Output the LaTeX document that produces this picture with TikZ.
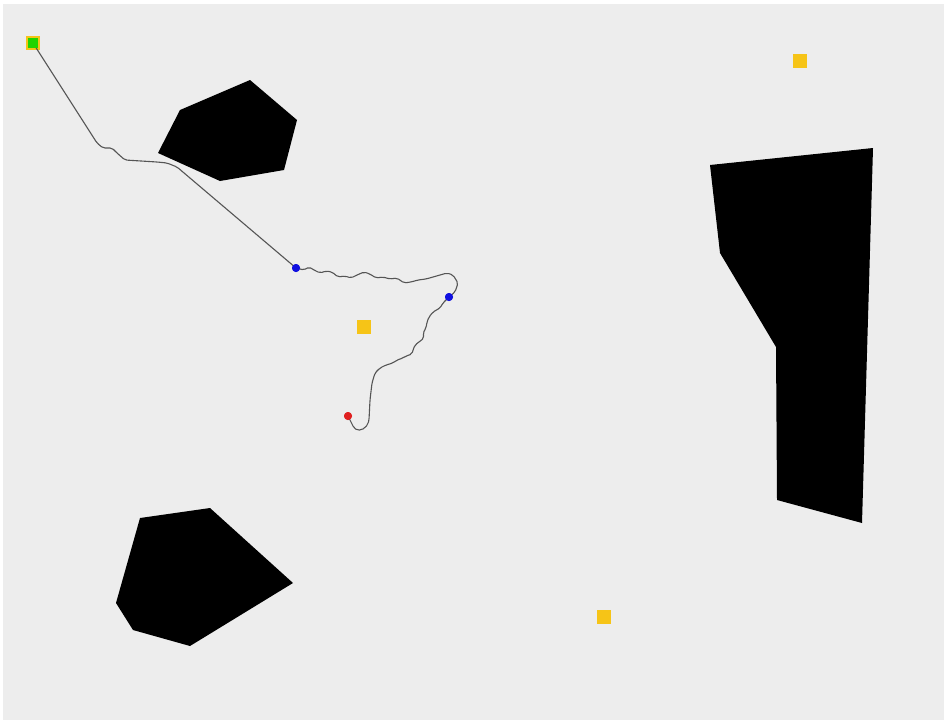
\documentclass[tikz,border=0pt]{standalone}
\begin{document}
\begin{tikzpicture}[x=1pt,y=-1pt,
  obstacle/.style={fill=black,draw=none},
  target/.style={fill=goldy,draw=none,minimum size=14pt,inner sep=0pt,shape=rectangle},
  startin/.style={fill=greeny,draw=none,minimum size=10pt,inner sep=0pt,shape=rectangle},
  waypt/.style={circle,fill=bluey,draw=none,minimum size=8pt,inner sep=0pt},
  goalpt/.style={circle,fill=redy,draw=none,minimum size=8pt,inner sep=0pt},
  trail/.style={draw=trailc,line width=1.1pt,line join=round,line cap=round,rounded corners=2pt}]
\definecolor{bg}{HTML}{EDEDED}
\definecolor{goldy}{HTML}{F6C417}
\definecolor{greeny}{HTML}{22D400}
\definecolor{bluey}{HTML}{1010E0}
\definecolor{redy}{HTML}{E02020}
\definecolor{trailc}{HTML}{555555}
\useasboundingbox (0,0) rectangle (944,720);
\fill[white] (0,0) rectangle (944,720);
\fill[bg] (3,4) rectangle (944,720);
% obstacles
\fill[obstacle] (158,153) -- (180,110) -- (250,80) -- (297,120) -- (284,170) -- (220,181) -- cycle;
\fill[obstacle] (140,518) -- (210,508) -- (293,583) -- (190,646) -- (133,630) -- (116,603) -- cycle;
\fill[obstacle] (710,165) -- (873,148) -- (862,523) -- (777,500) -- (776,347) -- (720,253) -- cycle;
% targets
\node[target] (t1) at (800,61) {};
\node[target] (t2) at (604,617) {};
\node[target] (t3) at (364,327) {};
\node[target] (t0) at (33,43) {};
\node[startin] (s) at (33,43) {};
% path
\coordinate (sc) at (33,43);
\node[waypt] (b1) at (296,268) {};
\node[waypt] (b2) at (449,297) {};
\node[goalpt] (g) at (348,416) {};
\draw[trail] (sc) -- (97,143) -- (103,148) -- (112,148) -- (117,153) -- (125,160) -- (157,162) -- (167,163) -- (177,167) -- (b1.center);
\draw[trail] (b1.center) -- (304,270) -- (309,267) -- (314,270) -- (320,273) -- (326,271) -- (332,272) -- (338,277) -- (345,276) -- (351,278) -- (357,275) -- (364,272) -- (370,274) -- (376,278) -- (383,277) -- (390,279) -- (397,278) -- (404,283) -- (411,282) -- (418,280) -- (426,279) -- (433,277) -- (440,275) -- (447,273) -- (453,275) -- (458,283) -- (455,292) -- (b2.center);
\draw[trail] (b2.center) -- (443,303) -- (440,308) -- (433,312) -- (429,317) -- (427,322) -- (426,328) -- (423,333) -- (424,338) -- (419,342) -- (415,345) -- (413,350) -- (412,354) -- (406,356) -- (403,358) -- (397,360) -- (393,363) -- (386,365) -- (380,368) -- (375,373) -- (372,383) -- (370,400) -- (369,420) .. controls (367,428) and (360,432) .. (354,428) -- (g.center);
% redraw dots on top
\node[waypt] at (b1) {};
\node[waypt] at (b2) {};
\node[goalpt] at (g) {};
\node[startin] at (s) {};
\end{tikzpicture}
\end{document}
